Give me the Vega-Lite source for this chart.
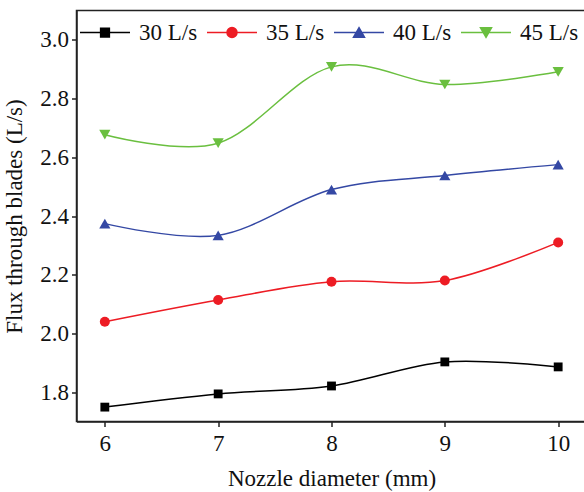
{
  "$schema": "https://vega.github.io/schema/vega-lite/v6.json",
  "width": 510,
  "height": 411,
  "autosize": {"type": "none"},
  "padding": {"left": 76.5, "top": 10.5, "right": 0, "bottom": 70.5},
  "config": {
    "font": "Liberation Serif",
    "view": {"stroke": "#222222", "strokeWidth": 1.5},
    "axis": {
      "grid": false,
      "domainColor": "#222222",
      "domainWidth": 1.5,
      "tickColor": "#222222",
      "tickWidth": 1.5,
      "labelColor": "#111111",
      "titleColor": "#111111",
      "labelFont": "Liberation Serif",
      "titleFont": "Liberation Serif",
      "labelFontSize": 23,
      "titleFontSize": 23,
      "titleFontWeight": "normal"
    },
    "legend": {
      "orient": "none",
      "legendX": 2.5,
      "legendY": -4,
      "direction": "horizontal",
      "columns": 4,
      "padding": 0,
      "symbolSize": 2500,
      "symbolStrokeWidth": 1.5,
      "symbolOpacity": 1,
      "labelFont": "Liberation Serif",
      "labelFontSize": 23,
      "labelColor": "#111111",
      "labelOffset": 8,
      "columnPadding": 6
    }
  },
  "data": {
    "values": [
      {"d": 6, "flux": 1.749, "series": "30 L/s"},
      {"d": 7, "flux": 1.794, "series": "30 L/s"},
      {"d": 8, "flux": 1.821, "series": "30 L/s"},
      {"d": 9, "flux": 1.903, "series": "30 L/s"},
      {"d": 10, "flux": 1.886, "series": "30 L/s"},
      {"d": 6, "flux": 2.040, "series": "35 L/s"},
      {"d": 7, "flux": 2.114, "series": "35 L/s"},
      {"d": 8, "flux": 2.176, "series": "35 L/s"},
      {"d": 9, "flux": 2.180, "series": "35 L/s"},
      {"d": 10, "flux": 2.310, "series": "35 L/s"},
      {"d": 6, "flux": 2.374, "series": "40 L/s"},
      {"d": 7, "flux": 2.334, "series": "40 L/s"},
      {"d": 8, "flux": 2.490, "series": "40 L/s"},
      {"d": 9, "flux": 2.538, "series": "40 L/s"},
      {"d": 10, "flux": 2.575, "series": "40 L/s"},
      {"d": 6, "flux": 2.677, "series": "45 L/s"},
      {"d": 7, "flux": 2.648, "series": "45 L/s"},
      {"d": 8, "flux": 2.908, "series": "45 L/s"},
      {"d": 9, "flux": 2.848, "series": "45 L/s"},
      {"d": 10, "flux": 2.891, "series": "45 L/s"}
    ]
  },
  "encoding": {
    "x": {
      "field": "d",
      "type": "quantitative",
      "scale": {"domain": [5.75, 10.25], "nice": false, "zero": false},
      "axis": {
        "orient": "bottom",
        "title": "Nozzle diameter (mm)",
        "values": [6, 7, 8, 9, 10],
        "format": "d",
        "tickSize": 5,
        "labelPadding": 6,
        "titlePadding": 12
      }
    },
    "y": {
      "field": "flux",
      "type": "quantitative",
      "scale": {"domain": [1.7, 3.1], "nice": false, "zero": false},
      "axis": {
        "orient": "left",
        "title": "Flux through blades (L/s)",
        "values": [1.8, 2.0, 2.2, 2.4, 2.6, 2.8, 3.0],
        "format": ".1f",
        "tickSize": 5,
        "labelPadding": 3,
        "titlePadding": 13
      }
    },
    "color": {
      "field": "series",
      "type": "nominal",
      "title": null,
      "scale": {
        "domain": ["30 L/s", "35 L/s", "40 L/s", "45 L/s"],
        "range": ["#000000", "#ed1c24", "#3448a4", "#6abf3f"]
      },
      "legend": {"title": null}
    }
  },
  "layer": [
    {
      "mark": {"type": "line", "interpolate": "cardinal", "strokeWidth": 1.5}
    },
    {
      "transform": [{"filter": "datum.series == '30 L/s'"}],
      "mark": {"type": "point", "shape": "square", "filled": true, "opacity": 1, "size": 78}
    },
    {
      "transform": [{"filter": "datum.series == '35 L/s'"}],
      "mark": {"type": "point", "shape": "circle", "filled": true, "opacity": 1, "size": 100}
    },
    {
      "transform": [{"filter": "datum.series == '40 L/s'"}],
      "mark": {"type": "point", "shape": "triangle-up", "filled": true, "opacity": 1, "size": 125}
    },
    {
      "transform": [{"filter": "datum.series == '45 L/s'"}],
      "mark": {"type": "point", "shape": "triangle-down", "filled": true, "opacity": 1, "size": 125}
    },
    {
      "mark": {"type": "point", "filled": true, "opacity": 0, "strokeWidth": 1.5},
      "encoding": {
        "shape": {
          "field": "series",
          "type": "nominal",
          "title": null,
          "scale": {
            "domain": ["30 L/s", "35 L/s", "40 L/s", "45 L/s"],
            "range": [
              "M-1,0H1M-0.175,-0.175H0.175V0.175H-0.175Z",
              "M-1,0H1M-0.2,0A0.2,0.2,0,1,1,0.2,0A0.2,0.2,0,1,1,-0.2,0Z",
              "M-1,0H1M0,-0.19L0.22,0.19L-0.22,0.19Z",
              "M-1,0H1M0,0.19L0.22,-0.19L-0.22,-0.19Z"
            ]
          },
          "legend": {"title": null}
        }
      }
    }
  ]
}
